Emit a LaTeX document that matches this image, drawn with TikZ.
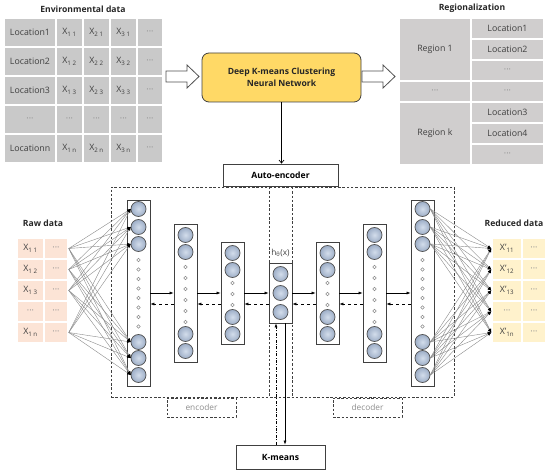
\documentclass[tikz,border=0pt]{standalone}
\usepackage{fontspec}
\setmainfont{Open Sans}
\usetikzlibrary{arrows.meta}
\definecolor{tgray}{HTML}{C9C9C9}
\definecolor{rgray}{HTML}{D0CECE}
\definecolor{tdark}{HTML}{404040}
\definecolor{dotc}{HTML}{8C8C8C}
\definecolor{kyellow}{HTML}{FFD966}
\definecolor{rawc}{HTML}{FCE4D6}
\definecolor{redc}{HTML}{FFF2CC}
\definecolor{neuL}{HTML}{D3DDEB}
\definecolor{neuD}{HTML}{9DAEC7}
\definecolor{edgec}{HTML}{505050}
\definecolor{linkc}{HTML}{8A8A8A}
\newcommand\Xs[1]{X\textsubscript{#1}}
\newcommand\dd{\textcolor{dotc}{···}}
\begin{document}
\begin{tikzpicture}[x=1pt,y=-1pt,
  cell/.style={draw=white, line width=1.5pt, fill=tgray, text=tdark, inner sep=0pt,
    font=\fontsize{8.8}{10}\selectfont},
  ttl/.style={font=\fontsize{8.6}{10}\selectfont\bfseries, text=black!85},
  layer/.style={draw=tdark, fill=white, line width=0.7pt, inner sep=0pt, minimum width=23pt},
  neur/.style={circle, draw=edgec, shading=radial, inner color=neuL, outer color=neuD,
    line width=0.7pt, minimum size=15pt, inner sep=0pt},
  dotn/.style={circle, draw=dotc, fill=white, line width=0.5pt, minimum size=3.4pt, inner sep=0pt},
  flow/.style={-{Latex[length=4pt,width=3pt]}, line width=0.6pt, black},
  link/.style={draw=linkc, line width=0.4pt, -{Latex[length=3.5pt,width=3pt,color=black]}},
  dbox/.style={draw=tdark, line width=0.7pt, dash pattern=on 2.5pt off 1.8pt},
  sbox/.style={draw=tdark, line width=0.8pt, fill=white, font=\fontsize{8.6}{10}\selectfont\bfseries},
  hollow/.style={draw=edgec, fill=white, line width=0.8pt, line join=miter}
]
\useasboundingbox (0,0) rectangle (550,473);

% ---------- Environmental data table ----------
\node[ttl] (envt) at (83,9) {Environmental data};
\foreach \lab/\j/\r in {Location1/1/1,Location2/2/2,Location3/3/3,Locationn/n/5} {
  \node[cell, minimum width=52pt, minimum height=29pt] (E\r-a) at (30,{3.5+29*\r}) {\lab};
  \node[cell, minimum width=27pt, minimum height=29pt] (E\r-b) at (69.5,{3.5+29*\r}) {\Xs{1 \j}};
  \node[cell, minimum width=27pt, minimum height=29pt] (E\r-c) at (96.5,{3.5+29*\r}) {\Xs{2 \j}};
  \node[cell, minimum width=27pt, minimum height=29pt] (E\r-d) at (123.5,{3.5+29*\r}) {\Xs{3 \j}};
  \node[cell, minimum width=26pt, minimum height=29pt] (E\r-e) at (150,{3.5+29*\r}) {\dd};
}
\node[cell, minimum width=52pt, minimum height=29pt] (E4-a) at (30,119.5) {\dd};
\node[cell, minimum width=27pt, minimum height=29pt] (E4-b) at (69.5,119.5) {\dd};
\node[cell, minimum width=27pt, minimum height=29pt] (E4-c) at (96.5,119.5) {\dd};
\node[cell, minimum width=27pt, minimum height=29pt] (E4-d) at (123.5,119.5) {\dd};
\node[cell, minimum width=26pt, minimum height=29pt] (E4-e) at (150,119.5) {\dd};

% ---------- Regionalization table ----------
\node[ttl] (regt) at (472,8) {Regionalization};
\node[cell, fill=rgray, minimum width=72pt, minimum height=63pt] (G1) at (435,49.5) {Region 1};
\node[cell, fill=rgray, minimum width=72pt, minimum height=21pt] (G2) at (435,91.5) {\dd};
\node[cell, fill=rgray, minimum width=72pt, minimum height=63pt] (G3) at (435,133.5) {Region k};
\foreach \t [count=\i] in {Location1,Location2,\dd,\dd,Location3,Location4,\dd} {
  \node[cell, fill=rgray, minimum width=73pt, minimum height=21pt] (H\i) at (507.5,{7.5+21*\i}) {\t};
}

% ---------- top box and hollow arrows ----------
\node[draw=tdark, fill=kyellow, rounded corners=7pt, line width=0.8pt, minimum width=159pt,
  minimum height=49pt, align=center, font=\fontsize{8.6}{11.5}\selectfont\bfseries, text=black!85]
  (Deep) at (281.5,77.5) {Deep K-means Clustering\\Neural Network};
\draw[hollow] (166,71) -- (187,71) -- (187,65) -- (199,76.5) -- (187,88) -- (187,82) -- (166,82) -- cycle;
\draw[hollow] (362,71) -- (383,71) -- (383,65) -- (395,76.5) -- (383,88) -- (383,82) -- (362,82) -- cycle;

% ---------- dashed frames ----------
\node[dbox, minimum width=343pt, minimum height=210pt, inner sep=0pt] (AEbox) at (282.5,292) {};
\draw[dbox] (269,187) -- (269,397);
\draw[dbox] (292,187) -- (292,397);
\node[dbox, minimum width=69pt, minimum height=19pt, inner sep=0pt, text=dotc,
  font=\fontsize{8.3}{10}\selectfont] (enc) at (201.5,407.5) {encoder};
\node[dbox, minimum width=69pt, minimum height=19pt, inner sep=0pt, text=dotc,
  font=\fontsize{8.3}{10}\selectfont] (dec) at (367.5,407.5) {decoder};

\node[sbox, minimum width=115pt, minimum height=22pt] (Auto) at (280.5,175) {Auto-encoder};
\draw[-{Straight Barb[length=3pt,width=5pt]}, line width=0.7pt] (Deep.south) -- (Deep.south |- Auto.north);

% ---------- layers ----------
\node[layer, minimum height=186pt] (L1) at (138.5,293) {};
\node[layer, minimum height=138pt] (L2) at (185.5,293) {};
\node[layer, minimum height=102pt] (L3) at (232.5,293) {};
\node[layer, minimum height=60pt]  (M)  at (280.5,293) {};
\node[layer, minimum height=102pt] (L4) at (327.5,293) {};
\node[layer, minimum height=138pt] (L5) at (374.5,293) {};
\node[layer, minimum height=186pt] (L6) at (422.5,293) {};

\foreach \L/\x in {L1/138.5,L6/422.5} {
  \foreach \y [count=\i] in {209,227,244,342,358,375} \node[neur] (\L c\i) at (\x,\y) {};
  \foreach \y [count=\i] in {260,269.5,279,288.5,298,307.5,317,326.5} \node[dotn] (\L d\i) at (\x,\y) {};
}
\foreach \L/\x in {L2/185.5,L5/374.5} {
  \foreach \y [count=\i] in {235,252,334,351} \node[neur] (\L c\i) at (\x,\y) {};
  \foreach \y [count=\i] in {267,278,289,300,311,322} \node[dotn] (\L d\i) at (\x,\y) {};
}
\foreach \L/\x in {L3/232.5,L4/327.5} {
  \foreach \y [count=\i] in {253,270,317,334} \node[neur] (\L c\i) at (\x,\y) {};
  \foreach \y [count=\i] in {283,294,305} \node[dotn] (\L d\i) at (\x,\y) {};
}
\foreach \y [count=\i] in {274,293,312} \node[neur] (Mc\i) at (280.5,\y) {};
\node[text=tdark, font=\fontsize{8.3}{10}\selectfont, inner sep=1pt] (hlab) at (280.5,253) {h\textsubscript{θ}(x)};

\foreach \a/\b in {L1/L2,L2/L3,L3/M,M/L4,L4/L5,L5/L6} {
  \draw[flow] (\a.east) -- (\b.west);
  \draw[flow, dashed] ([yshift=-11pt]\b.west) -- ([yshift=-11pt]\a.east);
}

% ---------- raw data ----------
\node[ttl] (rawt) at (43,223) {Raw data};
\foreach \t [count=\i] in {\Xs{1 1},\Xs{1 2},\Xs{1 3},\dd,\Xs{1 n}} {
  \node[cell, fill=rawc, minimum width=27pt, minimum height=21pt] (Ra\i) at (30.5,{227.5+21*\i}) {\t};
  \node[cell, fill=rawc, minimum width=24pt, minimum height=21pt] (Rb\i) at (56,{227.5+21*\i}) {\dd};
}
% ---------- reduced data ----------
\node[ttl] (redt) at (514,223) {Reduced data};
\foreach \t [count=\i] in {X'\textsubscript{11},X'\textsubscript{12},X'\textsubscript{13},\dd,X'\textsubscript{1n}} {
  \node[cell, fill=redc, minimum width=30pt, minimum height=21pt] (Da\i) at (507,{227.5+21*\i}) {\t};
  \node[cell, fill=redc, minimum width=24pt, minimum height=21pt] (Db\i) at (534,{227.5+21*\i}) {\dd};
}

\foreach \s in {1,2,3,5} \foreach \t in {1,...,6} \draw[link] (Rb\s.east) -- (L1c\t.west);
\foreach \s in {1,...,6} \foreach \t in {1,...,5} \draw[link] (L6c\s.east) -- (Da\t.west);

% ---------- K-means ----------
\node[sbox, minimum width=89pt, minimum height=24pt] (K) at (280.5,457) {K-means};
\draw[flow] ([xshift=4.5pt]M.south) -- ([xshift=4.5pt]K.north);
\draw[flow, dash pattern=on 3pt off 1.5pt on 0.8pt off 1.5pt] ([xshift=-4.5pt]K.north) -- ([xshift=-4.5pt]M.south);
\end{tikzpicture}
\end{document}
